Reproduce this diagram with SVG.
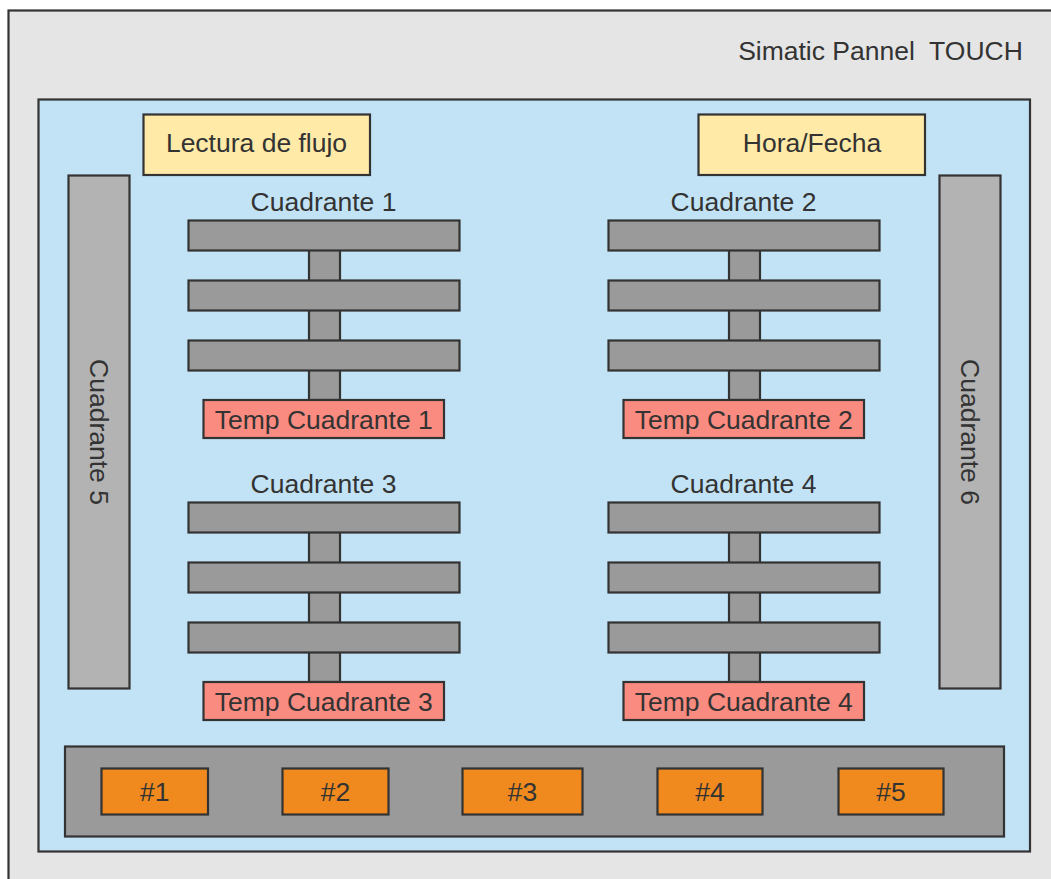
<svg xmlns="http://www.w3.org/2000/svg" width="1051" height="879" viewBox="0 0 1051 879">
  <style>
    .box { stroke: #333333; stroke-width: 2.2; }
    .panel { fill: #e5e5e5; }
    .screen { fill: #c2e3f5; }
    .info { fill: #ffeaa7; }
    .side { fill: #b3b3b3; }
    .bar { fill: #9a9a9a; }
    .temp { fill: #fa8b80; }
    .btn { fill: #f08a1e; }
    .lbl { font-family: "Liberation Sans", Arial, sans-serif; font-size: 26.5px; fill: #333333; text-anchor: middle; white-space: pre; }
  </style>

  <!-- HMI panel frame -->
  <g id="panel">
    <rect class="box panel" x="8.5" y="10.5" width="1050" height="875"/>
    <text class="lbl" x="880.5" y="60" xml:space="preserve">Simatic Pannel  TOUCH</text>
  </g>

  <!-- screen area -->
  <g id="screen">
    <rect class="box screen" x="38.5" y="99.5" width="991.5" height="752"/>
  </g>

  <g id="lectura-flujo">
    <rect class="box info" x="143.5" y="114.5" width="226.5" height="60.5"/>
    <text class="lbl" x="256.5" y="152">Lectura de flujo</text>
  </g>

  <g id="hora-fecha">
    <rect class="box info" x="698.5" y="114.5" width="226.5" height="60.5"/>
    <text class="lbl" x="812" y="152">Hora/Fecha</text>
  </g>

  <g id="cuadrante-5">
    <rect class="box side" x="68.5" y="175.5" width="61" height="513"/>
    <text class="lbl" transform="translate(99,432) rotate(90)" y="9">Cuadrante 5</text>
  </g>

  <g id="cuadrante-6">
    <rect class="box side" x="939.5" y="175.5" width="61" height="513"/>
    <text class="lbl" transform="translate(970,432) rotate(90)" y="9">Cuadrante 6</text>
  </g>

  <!-- vertical stems joining each stack of bars to its temperature box -->
  <g id="connectors">
    <rect class="box bar" x="309" y="236" width="31" height="164"/>
    <rect class="box bar" x="729" y="236" width="31" height="164"/>
    <rect class="box bar" x="309" y="518" width="31" height="164"/>
    <rect class="box bar" x="729" y="518" width="31" height="164"/>
  </g>

  <g id="cuadrante-1">
    <text class="lbl" x="323.5" y="211">Cuadrante 1</text>
    <rect class="box bar" x="188.5" y="220.5" width="271" height="30"/>
    <rect class="box bar" x="188.5" y="280.5" width="271" height="30"/>
    <rect class="box bar" x="188.5" y="340.5" width="271" height="30"/>
  </g>
  <g id="temp-cuadrante-1">
    <rect class="box temp" x="203.5" y="400" width="240.5" height="38"/>
    <text class="lbl" x="323.75" y="428.5">Temp Cuadrante 1</text>
  </g>

  <g id="cuadrante-2">
    <text class="lbl" x="743.5" y="211">Cuadrante 2</text>
    <rect class="box bar" x="608.5" y="220.5" width="271" height="30"/>
    <rect class="box bar" x="608.5" y="280.5" width="271" height="30"/>
    <rect class="box bar" x="608.5" y="340.5" width="271" height="30"/>
  </g>
  <g id="temp-cuadrante-2">
    <rect class="box temp" x="623.5" y="400" width="240.5" height="38"/>
    <text class="lbl" x="743.75" y="428.5">Temp Cuadrante 2</text>
  </g>

  <g id="cuadrante-3">
    <text class="lbl" x="323.5" y="493">Cuadrante 3</text>
    <rect class="box bar" x="188.5" y="502.5" width="271" height="30"/>
    <rect class="box bar" x="188.5" y="562.5" width="271" height="30"/>
    <rect class="box bar" x="188.5" y="622.5" width="271" height="30"/>
  </g>
  <g id="temp-cuadrante-3">
    <rect class="box temp" x="203.5" y="682" width="240.5" height="38"/>
    <text class="lbl" x="323.75" y="710.5">Temp Cuadrante 3</text>
  </g>

  <g id="cuadrante-4">
    <text class="lbl" x="743.5" y="493">Cuadrante 4</text>
    <rect class="box bar" x="608.5" y="502.5" width="271" height="30"/>
    <rect class="box bar" x="608.5" y="562.5" width="271" height="30"/>
    <rect class="box bar" x="608.5" y="622.5" width="271" height="30"/>
  </g>
  <g id="temp-cuadrante-4">
    <rect class="box temp" x="623.5" y="682" width="240.5" height="38"/>
    <text class="lbl" x="743.75" y="710.5">Temp Cuadrante 4</text>
  </g>

  <!-- bottom button strip -->
  <g id="button-strip">
    <rect class="box bar" x="65" y="746.5" width="939" height="90"/>
  </g>
  <g id="btn-1">
    <rect class="box btn" x="101.5" y="768.5" width="106.5" height="46"/>
    <text class="lbl" x="154.75" y="800.5">#1</text>
  </g>
  <g id="btn-2">
    <rect class="box btn" x="282.5" y="768.5" width="106" height="46"/>
    <text class="lbl" x="335.5" y="800.5">#2</text>
  </g>
  <g id="btn-3">
    <rect class="box btn" x="462.5" y="768.5" width="120" height="46"/>
    <text class="lbl" x="522.5" y="800.5">#3</text>
  </g>
  <g id="btn-4">
    <rect class="box btn" x="657.5" y="768.5" width="105" height="46"/>
    <text class="lbl" x="710" y="800.5">#4</text>
  </g>
  <g id="btn-5">
    <rect class="box btn" x="838.5" y="768.5" width="105" height="46"/>
    <text class="lbl" x="891" y="800.5">#5</text>
  </g>
</svg>
